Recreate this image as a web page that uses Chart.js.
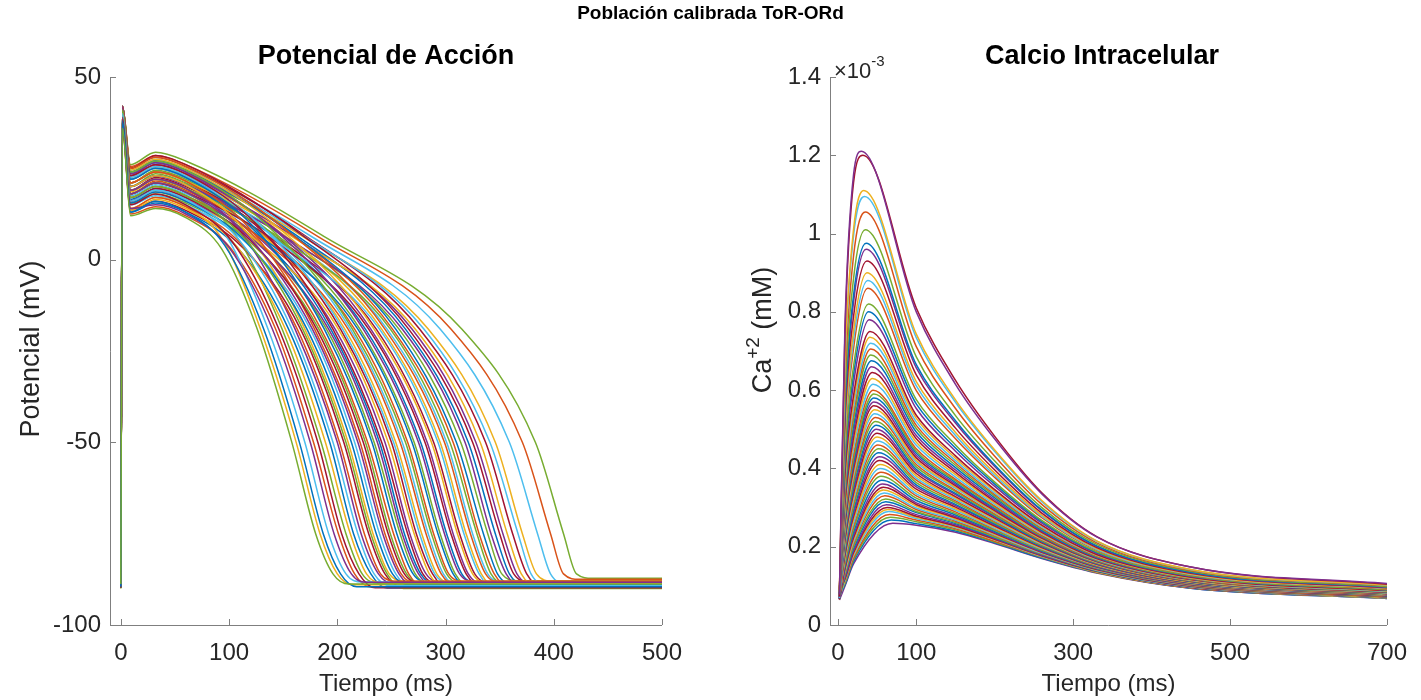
<!DOCTYPE html>
<html>
<head>
<meta charset="utf-8">
<script src="https://cdn.jsdelivr.net/npm/chart.js@4.4.0/dist/chart.umd.min.js"></script>
<style>
  html, body { margin: 0; padding: 0; background: #fff; }
  #wrap { position: relative; width: 1421px; height: 700px; overflow: hidden; }
  #apBox { position: absolute; left: 0; top: 0; width: 700px; height: 700px; }
  #caBox { position: absolute; left: 700px; top: 0; width: 721px; height: 700px; }
  #suptitle { position: absolute; left: 0; width: 1421px; top: 2px; text-align: center;
    font: bold 19px "Liberation Sans", Arial, sans-serif; color: #000; }
</style>
</head>
<body>
<div id="wrap">
  <div id="apBox"><canvas id="apChart" width="700" height="700"></canvas></div>
  <div id="caBox"><canvas id="caChart" width="721" height="700"></canvas></div>
  <div id="suptitle">Población calibrada ToR-ORd</div>
</div>
<script>
// colores por defecto de MATLAB
const matlabColors = ['#0072BD', '#D95319', '#EDB120', '#7E2F8E', '#77AC30', '#4DBEEE', '#A2142F'];
const FONT = '"Liberation Sans", Arial, Helvetica, sans-serif';

// ejes
const apTicksX = [0, 100, 200, 300, 400, 500];
const apTicksY = [-100, -50, 0, 50];
const caTicksX = [0, 100, 300, 500, 700];
const caTicksY = [0, 0.2, 0.4, 0.6, 0.8, 1, 1.2, 1.4];

// Potencial de accion: [tiempo (ms), potencial (mV)]
const apShort = [
  [[0,-88.8],[1.5,36],[9,12],[32,14],[60,11.5],[93,3.0],[126,-19],[158,-50],[180,-75],[196,-86],[211,-88.8],[500,-88.8]],
  [[0,-89.5],[1.5,38],[9,13],[32,16],[60,13],[96,3.9],[132,-19],[165,-50],[187,-75],[203,-86],[218,-89.5],[500,-89.5]],
  [[0,-88.3],[1.5,35],[9,14],[32,15],[60,12.5],[100,3.3],[140,-19],[175,-50],[197,-75],[213,-86],[228,-88.3],[500,-88.3]],
  [[0,-89.8],[1.5,39],[9,15],[32,18],[60,15],[103,4.9],[146,-19],[182,-50],[204,-75],[220,-86],[235,-89.8],[500,-89.8]],
  [[0,-88.6],[1.5,37],[9,13.5],[32,16.5],[60,14],[106,4],[152,-19],[189,-50],[212,-75],[227,-86],[242,-88.6],[500,-88.6]],
  [[0,-89.2],[1.5,40],[9,16],[32,19],[60,16.5],[109,5.5],[158,-19],[196,-50],[219,-75],[234,-86],[249,-89.2],[500,-89.2]],
  [[0,-88],[1.5,36],[9,14],[32,17],[60,14.5],[112,4],[163,-19],[202,-50],[225,-75],[240,-86],[255,-88],[500,-88]],
  [[0,-90],[1.5,41],[9,17],[32,20],[60,17.5],[114,5.9],[168,-19],[208,-50],[231,-75],[246,-86],[261,-90],[500,-90]],
  [[0,-88.9],[1.5,38],[9,15.5],[32,18.5],[60,16],[116,4.8],[172,-19],[213,-50],[236,-75],[251,-86],[266,-88.9],[500,-88.9]],
  [[0,-89.4],[1.5,40],[9,18],[32,21],[60,18.5],[118,6.3],[177,-19],[219,-50],[242,-75],[257,-86],[272,-89.4],[500,-89.4]],
  [[0,-88.4],[1.5,37],[9,16],[32,19.5],[60,17],[120,5.2],[181,-19],[224,-50],[247,-75],[262,-86],[277,-88.4],[500,-88.4]]
];
const apMid = [
  [[0,-89.7],[1.5,41],[9,19],[32,22],[60,19.5],[122,6.7],[185,-19],[228,-50],[252,-75],[266,-86],[281,-89.7],[500,-89.7]],
  [[0,-88.7],[1.5,39],[9,17],[32,20],[60,17.5],[125,5.2],[190,-19],[234,-50],[258,-75],[272,-86],[287,-88.7],[500,-88.7]],
  [[0,-89.1],[1.5,42],[9,20],[32,23],[60,20.5],[127,7],[194,-19],[239,-50],[262,-75],[277,-86],[292,-89.1],[500,-89.1]],
  [[0,-88.2],[1.5,38],[9,18],[32,21],[60,18.5],[129,5.6],[198,-19],[244,-50],[267,-75],[282,-86],[297,-88.2],[500,-88.2]],
  [[0,-89.9],[1.5,40],[9,21],[32,24],[60,21.5],[132,7.4],[203,-19],[250,-50],[273,-75],[288,-86],[303,-89.9],[500,-89.9]],
  [[0,-88.6],[1.5,39],[9,18.5],[32,22],[60,19.5],[134,5.9],[207,-19],[254,-50],[278,-75],[292,-86],[307,-88.6],[500,-88.6]],
  [[0,-89.3],[1.5,41],[9,22],[32,25],[60,22.5],[136,7.7],[212,-19],[260,-50],[284,-75],[298,-86],[313,-89.3],[500,-89.3]],
  [[0,-88.1],[1.5,37],[9,18],[32,21.5],[60,19],[138,5.3],[216,-19],[265,-50],[289,-75],[303,-86],[318,-88.1],[500,-88.1]],
  [[0,-89.6],[1.5,40],[9,21],[32,24.5],[60,22],[140,7],[221,-19],[271,-50],[295,-75],[309,-86],[324,-89.6],[500,-89.6]],
  [[0,-88.5],[1.5,38],[9,20],[32,23],[60,20.5],[143,5.9],[226,-19],[277,-50],[301,-75],[315,-86],[330,-88.5],[500,-88.5]],
  [[0,-89],[1.5,42],[9,23],[32,26],[60,23.5],[146,7.6],[231,-19],[283,-50],[307,-75],[321,-86],[336,-89],[500,-89]],
  [[0,-88.4],[1.5,39],[9,19],[32,22.5],[60,20],[148,5.2],[236,-19],[289,-50],[313,-75],[327,-86],[342,-88.4],[500,-88.4]],
  [[0,-89.8],[1.5,41],[9,22.5],[32,25.5],[60,23],[150,6.9],[241,-19],[295,-50],[319,-75],[333,-86],[348,-89.8],[500,-89.8]]
];
const apLong = [
  [[0,-88.3],[1.5,38],[9,21],[32,24],[60,21.5],[153,5.8],[246,-19],[301,-50],[325,-75],[339,-86],[354,-88.3],[500,-88.3]],
  [[0,-89.5],[1.5,41],[9,24],[32,27],[60,24.5],[156,7.4],[251,-19],[307,-50],[331,-75],[345,-86],[360,-89.5],[500,-89.5]],
  [[0,-87.9],[1.5,40],[9,20],[32,23.5],[60,21],[158,5.1],[257,-19],[314,-50],[339,-75],[352,-86],[367,-87.9],[500,-87.9]],
  [[0,-89.2],[1.5,42],[9,23.5],[32,26.5],[60,24],[162,6.7],[263,-19],[321,-50],[346,-75],[359,-86],[374,-89.2],[500,-89.2]],
  [[0,-88.7],[1.5,39],[9,22],[32,25],[60,22.5],[164,5.5],[269,-19],[328,-50],[353,-75],[366,-86],[381,-88.7],[500,-88.7]],
  [[0,-89.4],[1.5,41],[9,25],[32,28],[60,25.5],[168,7],[276,-19],[337,-50],[362,-75],[375,-86],[390,-89.4],[500,-89.4]],
  [[0,-88],[1.5,40],[9,23],[32,26],[60,23.5],[172,5.6],[284,-19],[346,-50],[371,-75],[384,-86],[399,-88],[500,-88]],
  [[0,-88.6],[1.5,41],[9,24.5],[32,27.5],[60,25],[178,6],[295,-19],[359,-50],[385,-75],[397,-86],[412,-88.6],[500,-88.6]],
  [[0,-87.5],[1.5,42],[9,25.5],[32,28.5],[60,26],[183,6.2],[305,-19],[371,-50],[397,-75],[409,-86],[424,-87.5],[500,-87.5]],
  [[0,-87.2],[1.5,42],[9,26],[32,29.4],[60,27],[188,6.3],[315,-19],[383,-50],[409,-75],[421,-86],[436,-87.2],[500,-87.2]]
];
// curvas intermedias de la banda densa
const apExtra = [
  [[0,-89],[1.5,39],[9,14],[32,17],[60,14.5],[95,5],[129,-19],[162,-50],[184,-75],[200,-86],[215,-89],[500,-89]],
  [[0,-88.2],[1.5,40],[9,16],[32,19],[60,16.5],[98,6.2],[136,-19],[170,-50],[192,-75],[208,-86],[223,-88.2],[500,-88.2]],
  [[0,-89.6],[1.5,36],[9,12.5],[32,14.5],[60,12],[102,2.9],[143,-19],[178,-50],[201,-75],[216,-86],[231,-89.6],[500,-89.6]],
  [[0,-88.5],[1.5,41],[9,18],[32,21],[60,18.5],[105,7.2],[149,-19],[185,-50],[208,-75],[223,-86],[238,-88.5],[500,-88.5]],
  [[0,-89.9],[1.5,37],[9,13],[32,15.5],[60,13],[108,3.2],[155,-19],[193,-50],[215,-75],[231,-86],[246,-89.9],[500,-89.9]],
  [[0,-88.8],[1.5,42],[9,19],[32,22],[60,19.5],[111,7.5],[161,-19],[200,-50],[222,-75],[238,-86],[253,-88.8],[500,-88.8]],
  [[0,-89.3],[1.5,37],[9,13.5],[32,16],[60,13.5],[113,3.2],[166,-19],[206,-50],[229,-75],[244,-86],[259,-89.3],[500,-89.3]],
  [[0,-88],[1.5,41],[9,20],[32,23],[60,20.5],[115,7.9],[170,-19],[210,-50],[233,-75],[248,-86],[263,-88],[500,-88]],
  [[0,-89.7],[1.5,38],[9,15],[32,17.5],[60,15],[118,4],[175,-19],[216,-50],[239,-75],[254,-86],[269,-89.7],[500,-89.7]],
  [[0,-88.6],[1.5,42],[9,21],[32,24],[60,21.5],[120,8.2],[179,-19],[221,-50],[244,-75],[259,-86],[274,-88.6],[500,-88.6]],
  [[0,-89.1],[1.5,38],[9,15.5],[32,18],[60,15.5],[122,4.1],[183,-19],[226,-50],[249,-75],[264,-86],[279,-89.1],[500,-89.1]],
  [[0,-88.3],[1.5,41],[9,22],[32,25],[60,22.5],[124,8.6],[188,-19],[232,-50],[255,-75],[270,-86],[285,-88.3],[500,-88.3]],
  [[0,-89.5],[1.5,39],[9,16],[32,19],[60,16.5],[126,4.5],[192,-19],[237,-50],[260,-75],[275,-86],[290,-89.5],[500,-89.5]],
  [[0,-88.9],[1.5,42],[9,23],[32,26],[60,23.5],[128,8.9],[196,-19],[241,-50],[265,-75],[279,-86],[294,-88.9],[500,-88.9]],
  [[0,-89.8],[1.5,38],[9,15.5],[32,18.5],[60,16],[131,3.9],[201,-19],[247,-50],[271,-75],[285,-86],[300,-89.8],[500,-89.8]],
  [[0,-88.4],[1.5,41],[9,22.5],[32,25.5],[60,23],[133,8.3],[205,-19],[252,-50],[276,-75],[290,-86],[305,-88.4],[500,-88.4]],
  [[0,-89.2],[1.5,39],[9,17],[32,20],[60,17.5],[135,4.5],[210,-19],[258,-50],[282,-75],[296,-86],[311,-89.2],[500,-89.2]],
  [[0,-88.7],[1.5,42],[9,24],[32,27],[60,24.5],[137,8.9],[214,-19],[263,-50],[287,-75],[301,-86],[316,-88.7],[500,-88.7]],
  [[0,-89.6],[1.5,38],[9,16.5],[32,19.5],[60,17],[140,3.9],[219,-19],[269,-50],[293,-75],[307,-86],[322,-89.6],[500,-89.6]],
  [[0,-88.1],[1.5,41],[9,23.5],[32,26.5],[60,24],[142,8.2],[224,-19],[275,-50],[299,-75],[313,-86],[328,-88.1],[500,-88.1]],
  [[0,-89.4],[1.5,39],[9,18],[32,21],[60,18.5],[145,4.5],[229,-19],[281,-50],[305,-75],[319,-86],[334,-89.4],[500,-89.4]],
  [[0,-88.6],[1.5,42],[9,24.5],[32,27.5],[60,25],[147,8.4],[234,-19],[287,-50],[311,-75],[325,-86],[340,-88.6],[500,-88.6]],
  [[0,-89.9],[1.5,38],[9,17.5],[32,20.5],[60,18],[150,3.9],[239,-19],[293,-50],[317,-75],[331,-86],[346,-89.9],[500,-89.9]],
  [[0,-88.3],[1.5,41],[9,25],[32,28],[60,25.5],[152,8.3],[244,-19],[299,-50],[323,-75],[337,-86],[352,-88.3],[500,-88.3]],
  [[0,-89.1],[1.5,40],[9,19],[32,22],[60,19.5],[155,4.4],[249,-19],[304,-50],[329,-75],[342,-86],[357,-89.1],[500,-89.1]],
  [[0,-88.8],[1.5,42],[9,24],[32,27],[60,24.5],[157,7.3],[254,-19],[310,-50],[335,-75],[348,-86],[363,-88.8],[500,-88.8]],
  [[0,-89.5],[1.5,39],[9,20],[32,23],[60,20.5],[160,4.7],[260,-19],[318,-50],[342,-75],[356,-86],[371,-89.5],[500,-89.5]],
  [[0,-88.2],[1.5,42],[9,25],[32,28.5],[60,26],[163,7.7],[266,-19],[325,-50],[350,-75],[363,-86],[378,-88.2],[500,-88.2]],
  [[0,-89.3],[1.5,40],[9,21],[32,24],[60,21.5],[166,4.9],[272,-19],[332,-50],[357,-75],[370,-86],[385,-89.3],[500,-89.3]],
  [[0,-88.9],[1.5,41],[9,24],[32,27],[60,24.5],[170,6.3],[280,-19],[341,-50],[367,-75],[379,-86],[394,-88.9],[500,-88.9]]
];

// Calcio intracelular: [tiempo (ms), Ca (x10^-3 mM)]
const caHigh = [
  [[2,0.078],[9,0.76],[20,1.15],[30,1.21],[100,0.80],[150,0.615],[200,0.475],[260,0.335],[330,0.225],[450,0.148],[700,0.106]],
  [[2,0.072],[9,0.74],[20,1.13],[32,1.20],[100,0.81],[150,0.625],[200,0.482],[260,0.338],[330,0.226],[450,0.148],[700,0.104]],
  [[2,0.085],[9,0.67],[20,1.01],[33,1.11],[100,0.743],[150,0.575],[200,0.447],[260,0.318],[330,0.215],[450,0.142],[700,0.102]],
  [[2,0.069],[9,0.657],[20,0.994],[34,1.095],[100,0.734],[150,0.569],[200,0.443],[260,0.315],[330,0.214],[450,0.141],[700,0.101]],
  [[2,0.09],[9,0.62],[20,0.942],[35,1.055],[100,0.711],[150,0.553],[200,0.431],[260,0.308],[330,0.21],[450,0.139],[700,0.1]],
  [[2,0.075],[9,0.583],[20,0.885],[35,1.01],[100,0.685],[150,0.535],[200,0.419],[260,0.30],[330,0.206],[450,0.137],[700,0.098]],
  [[2,0.082],[9,0.554],[20,0.842],[36,0.975],[100,0.665],[150,0.522],[200,0.409],[260,0.294],[330,0.202],[450,0.135],[700,0.097]],
  [[2,0.074],[9,0.541],[20,0.824],[36,0.96],[100,0.657],[150,0.516],[200,0.405],[260,0.292],[330,0.201],[450,0.134],[700,0.096]],
  [[2,0.067],[9,0.517],[20,0.788],[37,0.93],[100,0.639],[150,0.503],[200,0.396],[260,0.286],[330,0.198],[450,0.132],[700,0.095]],
  [[2,0.088],[9,0.494],[20,0.752],[37,0.90],[100,0.622],[150,0.492],[200,0.388],[260,0.281],[330,0.195],[450,0.13],[700,0.094]],
  [[2,0.083],[9,0.478],[20,0.729],[38,0.88],[100,0.611],[150,0.484],[200,0.382],[260,0.278],[330,0.193],[450,0.129],[700,0.093]],
  [[2,0.073],[9,0.463],[20,0.706],[38,0.86],[100,0.599],[150,0.476],[200,0.377],[260,0.274],[330,0.191],[450,0.128],[700,0.092]],
  [[2,0.08],[9,0.432],[20,0.661],[39,0.82],[100,0.576],[150,0.46],[200,0.365],[260,0.267],[330,0.187],[450,0.126],[700,0.09]],
  [[2,0.069],[9,0.418],[20,0.639],[39,0.80],[100,0.565],[150,0.452],[200,0.36],[260,0.264],[330,0.185],[450,0.125],[700,0.09]],
  [[2,0.094],[9,0.403],[20,0.617],[40,0.78],[100,0.553],[150,0.444],[200,0.354],[260,0.26],[330,0.183],[450,0.124],[700,0.089]]
];
const caMid = [
  [[2,0.07],[9,0.382],[20,0.586],[41,0.75],[100,0.536],[150,0.432],[200,0.346],[260,0.255],[330,0.18],[450,0.122],[700,0.088]],
  [[2,0.09],[9,0.371],[20,0.57],[41,0.735],[100,0.528],[150,0.426],[200,0.342],[260,0.253],[330,0.179],[450,0.121],[700,0.087]],
  [[2,0.086],[9,0.361],[20,0.554],[42,0.72],[100,0.519],[150,0.42],[200,0.337],[260,0.25],[330,0.178],[450,0.12],[700,0.086]],
  [[2,0.077],[9,0.35],[20,0.539],[42,0.705],[100,0.51],[150,0.414],[200,0.333],[260,0.247],[330,0.176],[450,0.119],[700,0.086]],
  [[2,0.076],[9,0.34],[20,0.524],[42,0.69],[100,0.502],[150,0.408],[200,0.329],[260,0.245],[330,0.175],[450,0.118],[700,0.085]],
  [[2,0.067],[9,0.33],[20,0.508],[43,0.675],[100,0.493],[150,0.402],[200,0.325],[260,0.242],[330,0.173],[450,0.118],[700,0.085]],
  [[2,0.066],[9,0.32],[20,0.493],[43,0.66],[100,0.484],[150,0.396],[200,0.32],[260,0.239],[330,0.172],[450,0.117],[700,0.084]],
  [[2,0.086],[9,0.31],[20,0.479],[44,0.645],[100,0.476],[150,0.39],[200,0.316],[260,0.237],[330,0.17],[450,0.116],[700,0.083]],
  [[2,0.091],[9,0.30],[20,0.464],[44,0.63],[100,0.467],[150,0.384],[200,0.312],[260,0.234],[330,0.169],[450,0.115],[700,0.083]],
  [[2,0.073],[9,0.291],[20,0.45],[45,0.615],[100,0.459],[150,0.378],[200,0.308],[260,0.232],[330,0.167],[450,0.114],[700,0.082]],
  [[2,0.079],[9,0.282],[20,0.435],[45,0.60],[100,0.45],[150,0.372],[200,0.304],[260,0.229],[330,0.166],[450,0.113],[700,0.082]],
  [[2,0.08],[9,0.276],[20,0.426],[46,0.59],[100,0.444],[150,0.368],[200,0.301],[260,0.227],[330,0.165],[450,0.113],[700,0.081]],
  [[2,0.071],[9,0.269],[20,0.416],[46,0.58],[100,0.439],[150,0.364],[200,0.298],[260,0.226],[330,0.164],[450,0.112],[700,0.081]],
  [[2,0.093],[9,0.263],[20,0.407],[46,0.57],[100,0.433],[150,0.36],[200,0.295],[260,0.224],[330,0.163],[450,0.112],[700,0.08]],
  [[2,0.084],[9,0.257],[20,0.398],[46,0.56],[100,0.427],[150,0.356],[200,0.292],[260,0.222],[330,0.162],[450,0.111],[700,0.08]],
  [[2,0.07],[9,0.251],[20,0.389],[47,0.55],[100,0.421],[150,0.352],[200,0.289],[260,0.22],[330,0.161],[450,0.11],[700,0.08]],
  [[2,0.068],[9,0.245],[20,0.38],[47,0.54],[100,0.416],[150,0.349],[200,0.287],[260,0.219],[330,0.16],[450,0.11],[700,0.079]],
  [[2,0.082],[9,0.239],[20,0.371],[48,0.53],[100,0.41],[150,0.344],[200,0.284],[260,0.217],[330,0.159],[450,0.109],[700,0.079]],
  [[2,0.089],[9,0.233],[20,0.362],[48,0.52],[100,0.404],[150,0.341],[200,0.281],[260,0.215],[330,0.158],[450,0.109],[700,0.078]],
  [[2,0.066],[9,0.227],[20,0.353],[49,0.51],[100,0.398],[150,0.336],[200,0.278],[260,0.213],[330,0.157],[450,0.108],[700,0.078]],
  [[2,0.074],[9,0.222],[20,0.344],[49,0.50],[100,0.393],[150,0.333],[200,0.276],[260,0.212],[330,0.156],[450,0.108],[700,0.078]],
  [[2,0.089],[9,0.216],[20,0.336],[50,0.49],[100,0.387],[150,0.328],[200,0.273],[260,0.21],[330,0.155],[450,0.107],[700,0.077]],
  [[2,0.081],[9,0.21],[20,0.327],[50,0.48],[100,0.381],[150,0.325],[200,0.27],[260,0.208],[330,0.154],[450,0.107],[700,0.077]],
  [[2,0.075],[9,0.204],[20,0.318],[51,0.47],[100,0.375],[150,0.321],[200,0.267],[260,0.206],[330,0.153],[450,0.106],[700,0.076]],
  [[2,0.065],[9,0.199],[20,0.31],[51,0.46],[100,0.37],[150,0.317],[200,0.264],[260,0.205],[330,0.152],[450,0.105],[700,0.076]]
];
const caLow = [
  [[2,0.071],[9,0.194],[20,0.302],[52,0.45],[100,0.364],[150,0.313],[200,0.261],[260,0.203],[330,0.151],[450,0.105],[700,0.076]],
  [[2,0.087],[9,0.188],[20,0.293],[52,0.44],[100,0.358],[150,0.308],[200,0.258],[260,0.201],[330,0.15],[450,0.104],[700,0.075]],
  [[2,0.085],[9,0.183],[20,0.285],[53,0.43],[100,0.353],[150,0.305],[200,0.256],[260,0.20],[330,0.149],[450,0.104],[700,0.075]],
  [[2,0.077],[9,0.177],[20,0.277],[53,0.42],[100,0.347],[150,0.301],[200,0.253],[260,0.198],[330,0.148],[450,0.103],[700,0.074]],
  [[2,0.068],[9,0.172],[20,0.269],[54,0.41],[100,0.341],[150,0.297],[200,0.25],[260,0.196],[330,0.148],[450,0.103],[700,0.074]],
  [[2,0.072],[9,0.167],[20,0.26],[54,0.40],[100,0.335],[150,0.293],[200,0.247],[260,0.194],[330,0.147],[450,0.102],[700,0.074]],
  [[2,0.078],[9,0.162],[20,0.253],[55,0.39],[100,0.33],[150,0.289],[200,0.245],[260,0.193],[330,0.146],[450,0.101],[700,0.073]],
  [[2,0.092],[9,0.156],[20,0.245],[55,0.38],[100,0.324],[150,0.285],[200,0.242],[260,0.191],[330,0.145],[450,0.101],[700,0.073]],
  [[2,0.09],[9,0.151],[20,0.237],[56,0.37],[100,0.318],[150,0.281],[200,0.239],[260,0.189],[330,0.144],[450,0.1],[700,0.072]],
  [[2,0.069],[9,0.146],[20,0.229],[57,0.36],[100,0.312],[150,0.277],[200,0.236],[260,0.187],[330,0.143],[450,0.1],[700,0.072]],
  [[2,0.067],[9,0.142],[20,0.223],[58,0.352],[100,0.308],[150,0.274],[200,0.234],[260,0.186],[330,0.142],[450,0.099],[700,0.072]],
  [[2,0.083],[9,0.139],[20,0.218],[58,0.345],[100,0.304],[150,0.271],[200,0.232],[260,0.185],[330,0.141],[450,0.099],[700,0.071]],
  [[2,0.08],[9,0.135],[20,0.212],[59,0.337],[100,0.299],[150,0.268],[200,0.23],[260,0.183],[330,0.14],[450,0.098],[700,0.071]],
  [[2,0.075],[9,0.131],[20,0.207],[60,0.33],[100,0.295],[150,0.265],[200,0.228],[260,0.182],[330,0.14],[450,0.098],[700,0.071]],
  [[2,0.073],[9,0.128],[20,0.201],[61,0.322],[100,0.29],[150,0.262],[200,0.225],[260,0.181],[330,0.139],[450,0.098],[700,0.07]],
  [[2,0.066],[9,0.124],[20,0.195],[61,0.315],[100,0.287],[150,0.259],[200,0.223],[260,0.18],[330,0.138],[450,0.097],[700,0.07]],
  [[2,0.087],[9,0.12],[20,0.189],[62,0.307],[100,0.282],[150,0.256],[200,0.221],[260,0.178],[330,0.138],[450,0.097],[700,0.07]],
  [[2,0.088],[9,0.117],[20,0.185],[63,0.30],[100,0.278],[150,0.253],[200,0.219],[260,0.177],[330,0.137],[450,0.096],[700,0.07]],
  [[2,0.069],[9,0.115],[20,0.181],[64,0.295],[100,0.275],[150,0.251],[200,0.218],[260,0.176],[330,0.136],[450,0.096],[700,0.069]],
  [[2,0.071],[9,0.112],[20,0.177],[65,0.29],[100,0.272],[150,0.249],[200,0.217],[260,0.175],[330,0.136],[450,0.096],[700,0.069]],
  [[2,0.082],[9,0.109],[20,0.171],[66,0.282],[100,0.268],[150,0.246],[200,0.214],[260,0.174],[330,0.135],[450,0.095],[700,0.069]],
  [[2,0.079],[9,0.106],[20,0.167],[67,0.275],[100,0.264],[150,0.243],[200,0.212],[260,0.173],[330,0.134],[450,0.095],[700,0.069]],
  [[2,0.076],[9,0.102],[20,0.162],[68,0.268],[100,0.259],[150,0.24],[200,0.21],[260,0.171],[330,0.134],[450,0.094],[700,0.068]],
  [[2,0.064],[9,0.099],[20,0.156],[70,0.26],[100,0.255],[150,0.237],[200,0.208],[260,0.17],[330,0.133],[450,0.094],[700,0.068]]
];

//convierte las curvas en datasets de Chart.js
function toDatasets(curves, offset) {
  return curves.map((pts, i) => ({
    data: pts.map(p => ({x: p[0], y: p[1]})),
    borderColor: matlabColors[(i * 3 + offset) % matlabColors.length],
    borderWidth: 1.5,
    pointRadius: 0,
    fill: false,
    cubicInterpolationMode: 'monotone'
  }));
}

//texto rotado con superindice opcional
function drawRotated(ctx, parts, cx, cy) {
  ctx.save();
  ctx.translate(cx, cy);
  ctx.rotate(-Math.PI / 2);
  let total = 0;
  parts.forEach(p => { ctx.font = p.size + 'px ' + FONT; p.w = ctx.measureText(p.text).width; total += p.w; });
  let x = -total / 2;
  ctx.textAlign = 'left';
  ctx.textBaseline = 'alphabetic';
  parts.forEach(p => {
    ctx.font = p.size + 'px ' + FONT;
    ctx.fillText(p.text, x, 9 - (p.rise || 0));
    x += p.w;
  });
  ctx.restore();
}

//ejes al estilo MATLAB (sin caja, marcas hacia dentro) y titulos
const matlabAxes = {
  id: 'matlabAxes',
  afterDraw(chart, args, opts) {
    const {ctx, chartArea: a, scales} = chart;
    const sx = scales.x, sy = scales.y;
    ctx.save();
    ctx.strokeStyle = '#7f7f7f';
    ctx.lineWidth = 1;
    ctx.beginPath();
    ctx.moveTo(a.left + 0.5, a.top);
    ctx.lineTo(a.left + 0.5, a.bottom + 0.5);
    ctx.lineTo(a.right, a.bottom + 0.5);
    sx.ticks.forEach(t => {
      const px = Math.round(sx.getPixelForValue(t.value)) + 0.5;
      ctx.moveTo(px, a.bottom);
      ctx.lineTo(px, a.bottom - 6);
    });
    sy.ticks.forEach(t => {
      const py = Math.round(sy.getPixelForValue(t.value)) + 0.5;
      ctx.moveTo(a.left, py);
      ctx.lineTo(a.left + 6, py);
    });
    ctx.stroke();

    ctx.fillStyle = '#000';
    ctx.textAlign = 'center';
    ctx.textBaseline = 'middle';
    ctx.font = 'bold 27px ' + FONT;
    ctx.fillText(opts.title, opts.titleX, 57);

    ctx.fillStyle = '#262626';
    ctx.font = '24px ' + FONT;
    ctx.fillText(opts.xLabel, (a.left + a.right) / 2, 684);
    drawRotated(ctx, opts.yLabel, opts.yLabelX, opts.yLabelY);

    if (opts.exponent) {
      ctx.textAlign = 'left';
      ctx.textBaseline = 'alphabetic';
      ctx.font = '22px ' + FONT;
      ctx.fillText('\u00d710', a.left + 4, 78);
      const w = ctx.measureText('\u00d710').width;
      ctx.font = '15px ' + FONT;
      ctx.fillText(opts.exponent, a.left + 4 + w, 66);
    }
    ctx.restore();
  }
};

function baseOptions(xMin, xMax, yMin, yMax, ticksX, ticksY, yWidth, padRight, fmtY) {
  return {
    responsive: false,
    animation: false,
    events: [],
    layout: { padding: { top: 77, right: padRight, left: 0, bottom: 0 } },
    scales: {
      x: {
        type: 'linear', min: xMin, max: xMax,
        afterBuildTicks: s => { s.ticks = ticksX.map(v => ({value: v})); },
        afterFit: s => { s.height = 75; },
        grid: { display: false, drawTicks: false },
        border: { display: false },
        ticks: { color: '#262626', padding: 14, maxRotation: 0, autoSkip: false,
                 font: { family: FONT, size: 24 } }
      },
      y: {
        type: 'linear', min: yMin, max: yMax,
        afterBuildTicks: s => { s.ticks = ticksY.map(v => ({value: v})); },
        afterFit: s => { s.width = yWidth; },
        grid: { display: false, drawTicks: false },
        border: { display: false },
        ticks: { color: '#262626', padding: 9, autoSkip: false,
                 font: { family: FONT, size: 24 }, callback: fmtY }
      }
    }
  };
}

// grafico del potencial de accion
const apOptions = baseOptions(-10, 500, -100, 50, apTicksX, apTicksY, 110, 38, v => String(v));
apOptions.plugins = {
  legend: { display: false }, tooltip: { enabled: false },
  matlabAxes: { title: 'Potencial de Acción', titleX: 386, xLabel: 'Tiempo (ms)',
                yLabelX: 30, yLabelY: 349, yLabel: [{ text: 'Potencial (mV)', size: 27 }] }
};
new Chart(document.getElementById('apChart'), {
  type: 'line',
  data: { datasets: toDatasets(apShort.concat(apExtra, apMid, apLong), 4) },
  options: apOptions,
  plugins: [matlabAxes]
});

// grafico del calcio intracelular
const caOptions = baseOptions(-10, 700, 0, 1.4, caTicksX, caTicksY, 130, 19, v => String(+Number(v).toFixed(1)));
caOptions.plugins = {
  legend: { display: false }, tooltip: { enabled: false },
  matlabAxes: { title: 'Calcio Intracelular', titleX: 402, xLabel: 'Tiempo (ms)', exponent: '-3',
                yLabelX: 62, yLabelY: 330,
                yLabel: [{ text: 'Ca', size: 27 }, { text: '+2', size: 19, rise: 12 }, { text: ' (mM)', size: 27 }] }
};
new Chart(document.getElementById('caChart'), {
  type: 'line',
  data: { datasets: toDatasets(caHigh.concat(caMid, caLow), 3) },
  options: caOptions,
  plugins: [matlabAxes]
});
</script>
</body>
</html>
